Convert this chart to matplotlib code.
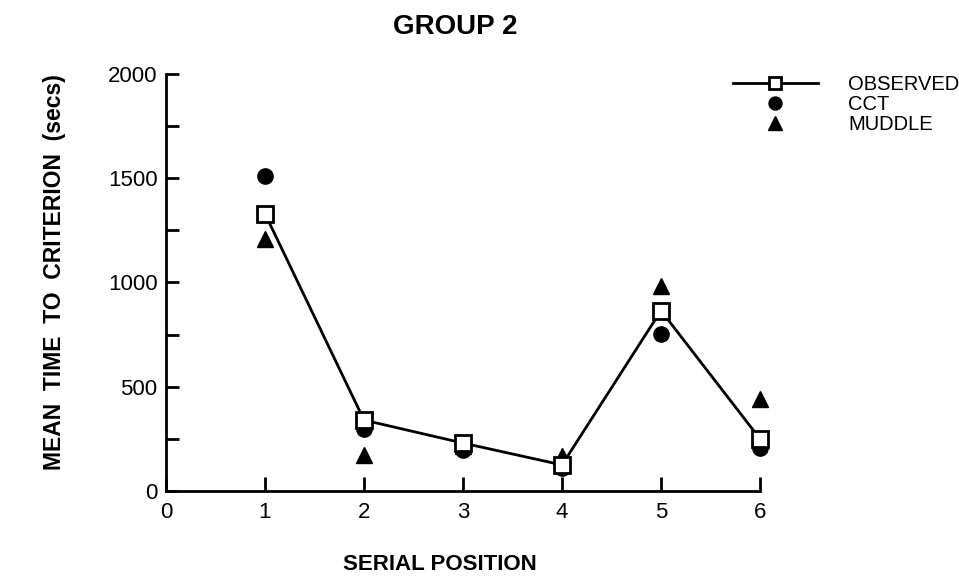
import matplotlib.pyplot as plt

# datos
posicion = [1, 2, 3, 4, 5, 6]
observado = [1330, 340, 230, 125, 865, 250]
cct = [1510, 295, 195, 110, 755, 205]
muddle = [1210, 175, 215, 170, 985, 440]

plt.rcParams['font.family'] = ['Liberation Sans', 'DejaVu Sans']

fig = plt.figure(figsize=(9.59, 5.79), dpi=100)
ax = fig.add_axes([166/959, 88/579, 594/959, 417/579])

ax.plot(posicion, observado, color='black', lw=2, marker='s', ms=11,
        mfc='white', mec='black', mew=2, label='OBSERVED', zorder=3, clip_on=False)
ax.plot(posicion, cct, ls='none', marker='o', ms=11, color='black', label='CCT',
        zorder=2, clip_on=False)
ax.plot(posicion, muddle, ls='none', marker='^', ms=12, color='black', label='MUDDLE',
        zorder=2, clip_on=False)

ax.set_xlim(0, 6)
ax.set_ylim(0, 2000)
ax.set_xticks(range(0, 7))
ax.set_yticks([0, 500, 1000, 1500, 2000])
ax.set_yticks(range(0, 2001, 250), minor=True)
ax.tick_params(direction='in', length=9, width=2, labelsize=16, pad=6)
ax.tick_params(axis='y', which='minor', direction='in', length=9, width=2)
ax.tick_params(axis='x', length=10, pad=8)

for s in ['top', 'right']:
    ax.spines[s].set_visible(False)
for s in ['left', 'bottom']:
    ax.spines[s].set_linewidth(2)

fig.text(455/959, 1 - 27/579, 'GROUP 2', ha='center', va='center',
         fontsize=20, fontweight='bold')
fig.text(440/959, 1 - 565/579, 'SERIAL POSITION', ha='center', va='center',
         fontsize=16, fontweight='bold')
fig.text(55/959, 1 - 272/579, 'MEAN  TIME  TO  CRITERION  (secs)', ha='center',
         va='center', rotation=90, fontsize=16.5, fontweight='bold')

fig.legend(loc='upper left', bbox_to_anchor=(715/959, 1 - 57/579), frameon=False,
           fontsize=14.5, handlelength=4.2, handletextpad=1.5, labelspacing=0.05,
           numpoints=1, markerscale=0.85)

plt.savefig('out.png', dpi=100)
